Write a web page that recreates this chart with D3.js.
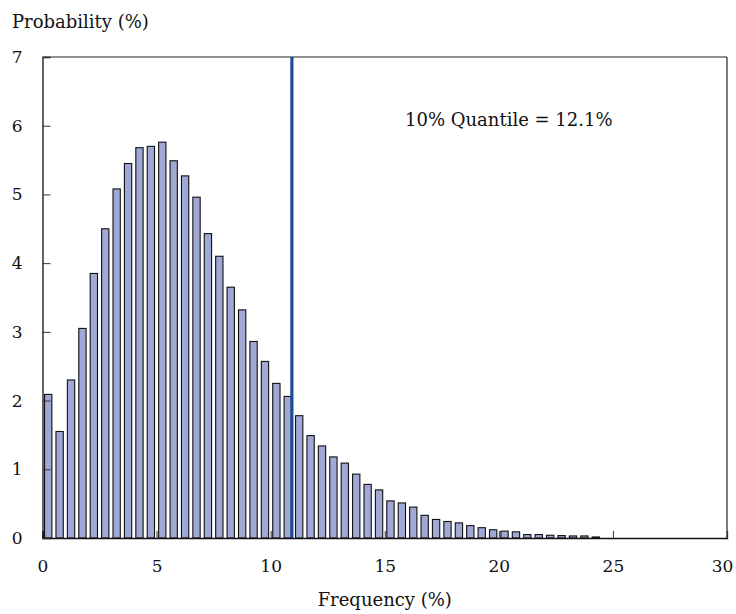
<!DOCTYPE html>
<html>
<head>
<meta charset="utf-8">
<script src="https://cdn.jsdelivr.net/npm/d3@7"></script>
<style>
  html, body { margin: 0; padding: 0; background: #fff; }
  svg { display: block; }
  text { font-family: "Palatino Linotype", "Book Antiqua", Palatino, "DejaVu Serif", serif; fill: #111; }
</style>
</head>
<body>
<script>
// ---- data ----
const binWidth = 0.5;
const probabilities = [
  2.09, 1.55, 2.30, 3.05, 3.85, 4.50, 5.08, 5.45, 5.68, 5.70,
  5.76, 5.49, 5.27, 4.96, 4.43, 4.10, 3.65, 3.32, 2.86, 2.57,
  2.25, 2.06, 1.78, 1.49, 1.34, 1.18, 1.09, 0.93, 0.78, 0.70,
  0.54, 0.51, 0.45, 0.33, 0.27, 0.24, 0.22, 0.18, 0.15, 0.12,
  0.10, 0.09, 0.05, 0.05, 0.04, 0.035, 0.03, 0.03, 0.015
];
const binCenters = probabilities.map((_, i) => binWidth / 2 + i * binWidth);
const xTicks = [0, 5, 10, 15, 20, 25, 30];
const yTicks = [0, 1, 2, 3, 4, 5, 6, 7];
const quantileX = 10.93;
const quantileLabel = "10% Quantile = 12.1%";
const xTitle = "Frequency (%)";
const yTitle = "Probability (%)";

// ---- layout ----
const W = 736, H = 614;
const mLeft = 42.5, mRight = 727, mTop = 57, mBottom = 538;
const FONT = "'Palatino Linotype', 'Book Antiqua', Palatino, 'DejaVu Serif', serif";

const svg = d3.select("body").append("svg").attr("width", W).attr("height", H);

const x = d3.scaleLinear().domain([0, 30]).range([mLeft, mRight]);
const y = d3.scaleLinear().domain([0, 7]).range([mBottom, mTop]);

const barW = x(0.32) - x(0);

// bars
svg.append("g").selectAll("rect").data(probabilities).enter().append("rect")
  .attr("x", (d, i) => x(binCenters[i]) - barW / 2)
  .attr("y", d => y(d))
  .attr("width", barW)
  .attr("height", d => y(0) - y(d))
  .attr("fill", "#a0a8d6")
  .attr("stroke", "#111")
  .attr("stroke-width", 1.1);

// frame (top and right)
svg.append("line").attr("x1", mLeft).attr("x2", mRight).attr("y1", mTop).attr("y2", mTop)
  .attr("stroke", "#222").attr("stroke-width", 1.2);
svg.append("line").attr("x1", mRight).attr("x2", mRight).attr("y1", mTop).attr("y2", mBottom)
  .attr("stroke", "#222").attr("stroke-width", 1.2);

// quantile line
svg.append("line").attr("x1", x(quantileX)).attr("x2", x(quantileX))
  .attr("y1", mTop).attr("y2", mBottom)
  .attr("stroke", "#1c4c97").attr("stroke-width", 3.2);

// x axis
const xAxis = d3.axisBottom(x).tickValues(xTicks).tickSize(-7).tickPadding(22).tickFormat(d3.format("d"));
const gx = svg.append("g").attr("transform", `translate(0,${mBottom})`).call(xAxis);
gx.select(".domain").attr("stroke", "#111").attr("stroke-width", 1.3);
gx.selectAll(".tick line").attr("stroke", "#333");
gx.selectAll(".tick text").attr("font-size", 17).attr("dy", "0.71em")
  .style("font-family", FONT).attr("fill", "#111")
  .attr("dx", d => d === 30 ? -5 : 0);

// y axis
const yAxis = d3.axisLeft(y).tickValues(yTicks).tickSize(-8).tickPadding(20).tickFormat(d3.format("d"));
const gy = svg.append("g").attr("transform", `translate(${mLeft},0)`).call(yAxis);
gy.select(".domain").attr("stroke", "#111").attr("stroke-width", 1.3);
gy.selectAll(".tick line").attr("stroke", "#333");
gy.selectAll(".tick text").attr("font-size", 17)
  .style("font-family", FONT).attr("fill", "#111");

// titles
svg.append("text").attr("x", 12).attr("y", 28).attr("font-size", 18).text(yTitle);
svg.append("text").attr("x", (mLeft + mRight) / 2).attr("y", 606).attr("text-anchor", "middle")
  .attr("font-size", 18).text(xTitle);
svg.append("text").attr("x", 405).attr("y", 126).attr("font-size", 18).text(quantileLabel);
</script>
</body>
</html>
